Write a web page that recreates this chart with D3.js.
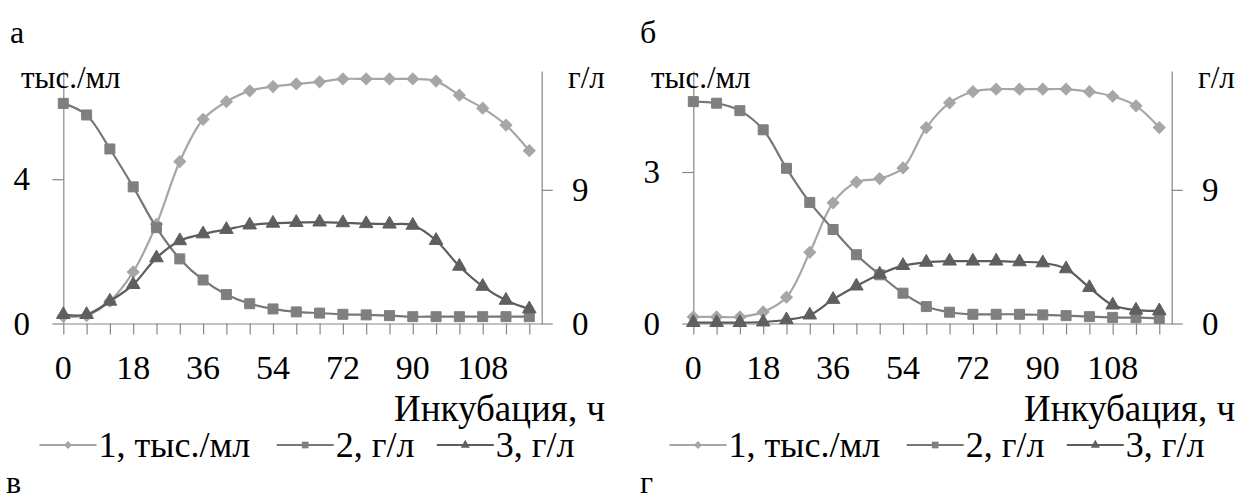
<!DOCTYPE html>
<html>
<head>
<meta charset="utf-8">
<script src="https://cdn.jsdelivr.net/npm/d3@7"></script>
<style>
  body { margin: 0; background: #fff; }
  svg text { font-family: "Liberation Serif", "Tinos", "Noto Serif", "DejaVu Serif", "FreeSerif", "Nimbus Roman", Times, serif; }
</style>
</head>
<body>
<div id="chart"></div>
<script>
var svgWidth = 1240;
var svgHeight = 504;

// incubation time, h
var hours = [0, 6, 12, 18, 24, 30, 36, 42, 48, 54, 60, 66, 72, 78, 84, 90, 96, 102, 108, 114, 120];
var hourLabels = [0, 18, 36, 54, 72, 90, 108];

// panel а
var cellsA = [0.2, 0.22, 0.62, 1.43, 2.75, 4.49, 5.66, 6.15, 6.45, 6.57, 6.64, 6.7, 6.78, 6.78, 6.78, 6.78, 6.72, 6.33, 5.97, 5.5, 4.79];
var sugarA = [14.82, 14.04, 11.75, 9.2, 6.45, 4.35, 2.93, 1.95, 1.33, 0.98, 0.78, 0.7, 0.62, 0.58, 0.53, 0.46, 0.46, 0.46, 0.46, 0.46, 0.46];
var productA = [0.6, 0.6, 1.5, 2.62, 4.42, 5.57, 6.03, 6.33, 6.63, 6.75, 6.8, 6.83, 6.78, 6.72, 6.69, 6.61, 5.59, 3.85, 2.5, 1.56, 0.98];
var leftTicksA = [0, 4];

// panel б
var cellsB = [0.13, 0.13, 0.13, 0.23, 0.52, 1.41, 2.39, 2.8, 2.87, 3.08, 3.88, 4.37, 4.59, 4.64, 4.64, 4.64, 4.64, 4.59, 4.5, 4.31, 3.88];
var sugarB = [14.94, 14.83, 14.33, 13.04, 10.45, 8.15, 6.33, 4.63, 3.28, 2.04, 1.14, 0.76, 0.62, 0.62, 0.62, 0.58, 0.53, 0.46, 0.41, 0.39, 0.35];
var productB = [0.06, 0.06, 0.06, 0.1, 0.25, 0.57, 1.62, 2.52, 3.32, 3.9, 4.12, 4.2, 4.2, 4.2, 4.15, 4.08, 3.68, 2.42, 1.24, 0.9, 0.85];
var leftTicksB = [0, 3];

var rightTicks = [0, 9];
var seriesNames = ["1, тыс./мл", "2, г/л", "3, г/л"];

var lineColors = ["#a6a6a6", "#777777", "#5c5c5c"];
var markerColors = ["#a6a6a6", "#7f7f7f", "#5f5f5f"];
var symbols = [d3.symbolSquare, d3.symbolSquare, d3.symbolTriangle];
var symbolSizes = [70, 100, 80];
var symbolRotate = [45, 0, 0];

var axisColor = "#868686";

var svg = d3.select("#chart")
  .append("svg")
  .attr("width", svgWidth)
  .attr("height", svgHeight);

// helper for plain labels
function label(sel, x, y, txt, size, anchor) {
  return sel.append("text")
    .attr("x", x)
    .attr("y", y)
    .attr("text-anchor", anchor || "start")
    .attr("dominant-baseline", "central")
    .style("font-size", size + "px")
    .style("fill", "#000")
    .text(txt);
}

function drawPanel(offsetX, letter, cells, sugar, product, leftMax, leftTicks) {
  var g = svg.append("g").attr("transform", `translate(${offsetX}, 0)`);

  var top = 71, bottom = 323.5;
  var x = d3.scaleLinear().domain([0, 123.2]).range([63.3, 541.7]);
  var yLeft = d3.scaleLinear().domain([0, leftMax]).range([bottom, top]);
  var yRight = d3.scaleLinear().domain([0, 17]).range([bottom, top]);

  // x axis with ticks every 6 h
  var xAxis = g.append("g")
    .attr("transform", `translate(0, ${bottom})`)
    .call(d3.axisBottom(x).tickValues(hours).tickSize(11).tickSizeOuter(0).tickFormat(""));

  var leftAxis = g.append("g")
    .attr("transform", `translate(${x(0)}, 0)`)
    .call(d3.axisLeft(yLeft).tickValues(leftTicks).tickSize(11).tickSizeOuter(0).tickFormat(""));

  var rightAxis = g.append("g")
    .attr("transform", `translate(${x(123.2)}, 0)`)
    .call(d3.axisRight(yRight).tickValues(rightTicks).tickSize(11).tickSizeOuter(0).tickFormat(""));

  [xAxis, leftAxis, rightAxis].forEach(function(a) {
    a.selectAll("path, line").attr("stroke", axisColor).attr("stroke-width", 1.2);
  });

  // tick labels
  hourLabels.forEach(d => label(g, x(d), 367, d, 34, "middle"));
  leftTicks.forEach(d => label(g, 30, yLeft(d), d, 33, "end"));
  rightTicks.forEach(d => label(g, 572, yRight(d), d, 33));

  // units and titles
  label(g, 10, 32, letter, 32);
  label(g, 21, 77, "тыс./мл", 31);
  label(g, 568, 77, "г/л", 31);
  label(g, 605, 408, "Инкубация, ч", 37, "end");

  // series
  var seriesData = [
    { values: cells, y: yLeft },
    { values: sugar, y: yRight },
    { values: product, y: yRight }
  ];

  var line = d3.line().curve(d3.curveCatmullRom.alpha(0.5));

  seriesData.forEach(function(s, k) {
    var pts = hours.map((h, i) => [x(h), s.y(s.values[i])]);
    g.append("path")
      .attr("d", line(pts))
      .attr("fill", "none")
      .attr("stroke", lineColors[k])
      .attr("stroke-width", 2.2);
    g.selectAll(".m" + k)
      .data(pts)
      .enter()
      .append("path")
      .attr("d", d3.symbol().type(symbols[k]).size(symbolSizes[k]))
      .attr("transform", d => `translate(${d[0]}, ${d[1]}) rotate(${symbolRotate[k]})`)
      .attr("fill", markerColors[k])
      .attr("stroke", markerColors[k])
      .attr("stroke-width", 1);
  });

  // legend
  var legendX = [39.5, 276.7, 436.8];
  seriesNames.forEach(function(name, k) {
    var lg = g.append("g").attr("transform", `translate(${legendX[k]}, 445)`);
    lg.append("line")
      .attr("x1", 0).attr("x2", 57)
      .attr("stroke", lineColors[k])
      .attr("stroke-width", 2.2);
    lg.append("path")
      .attr("d", d3.symbol().type(symbols[k]).size(symbolSizes[k] * 0.45)())
      .attr("transform", `translate(28.5, 0) rotate(${symbolRotate[k]})`)
      .attr("fill", markerColors[k]);
    label(lg, 59, 0, name, 36);
  });
}

drawPanel(0, "а", cellsA, sugarA, productA, 7, leftTicksA);
drawPanel(630, "б", cellsB, sugarB, productB, 5, leftTicksB);

// captions of the next row
label(svg, 6, 482, "в", 32);
label(svg, 640, 482, "г", 32);
</script>
</body>
</html>
